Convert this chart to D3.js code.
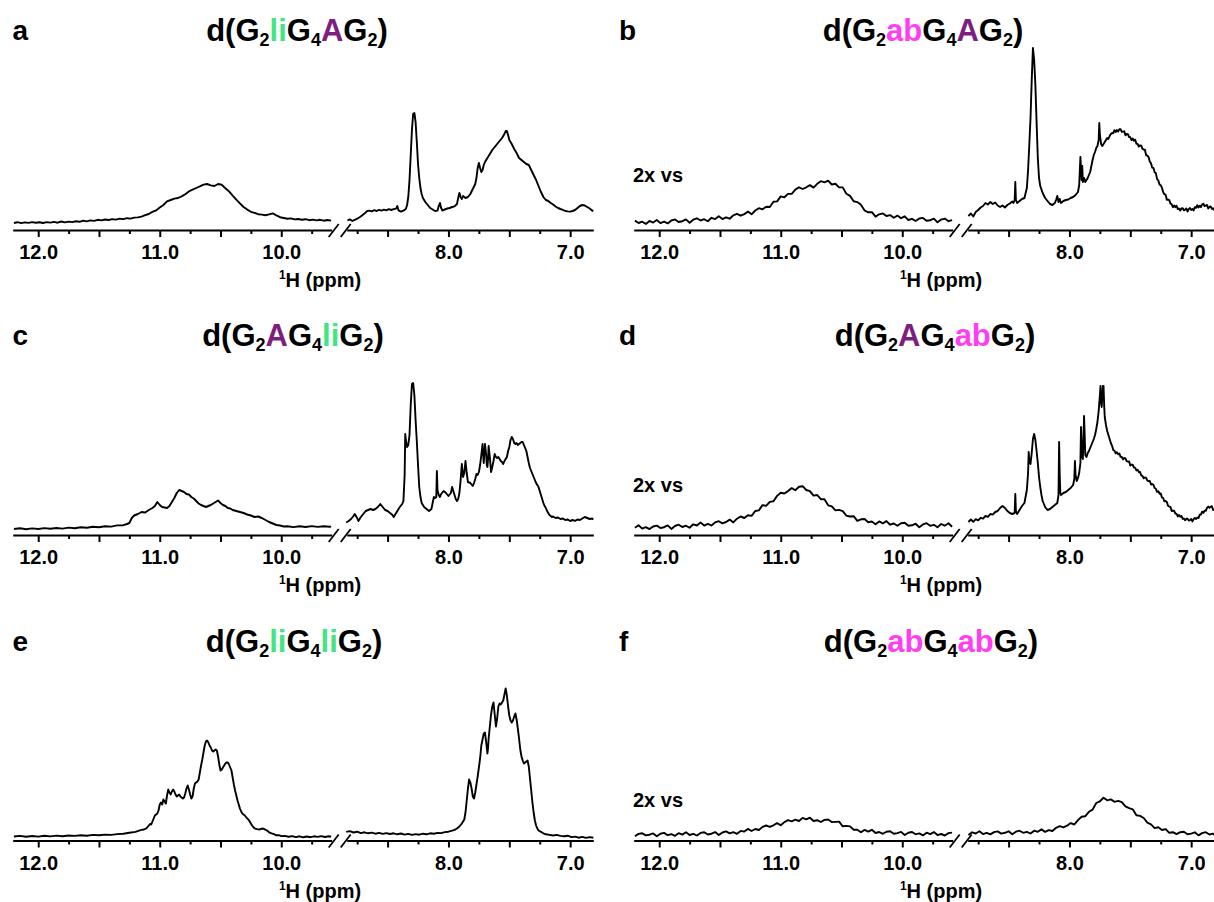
<!DOCTYPE html>
<html><head><meta charset="utf-8">
<script src="https://cdn.jsdelivr.net/npm/d3@7"></script>
<style>
body{margin:0;background:#fff}
svg{display:block}
text{font-family:"Liberation Sans",Arial,Helvetica,sans-serif;font-weight:bold;fill:#000}
</style>
</head><body>
<svg id="chart" width="1214" height="902"></svg>
<script>
// ---------- axis data ----------
const leftDomain = [12.21, 9.585];
const rightDomain = [8.836, 6.81];
const leftTicks = [12.0, 11.75, 11.5, 11.25, 11.0, 10.75, 10.5, 10.25, 10.0, 9.75];
const rightTicks = [8.75, 8.5, 8.25, 8.0, 7.75, 7.5, 7.25, 7.0];
const tickLabels = ["12.0", "11.0", "10.0", "8.0", "7.0"];
const axisTitle = ["1", "H (ppm)"];
const panelLetters = ["a", "b", "c", "d", "e", "f"];
const scaleNote = "2x vs";

// ---------- titles (text, kind) ----------
const titleA = [["d(G",""],["2","sub"],["li","li"],["G",""],["4","sub"],["A","A"],["G",""],["2","sub"],[")",""]];
const titleB = [["d(G",""],["2","sub"],["ab","ab"],["G",""],["4","sub"],["A","A"],["G",""],["2","sub"],[")",""]];
const titleC = [["d(G",""],["2","sub"],["A","A"],["G",""],["4","sub"],["li","li"],["G",""],["2","sub"],[")",""]];
const titleD = [["d(G",""],["2","sub"],["A","A"],["G",""],["4","sub"],["ab","ab"],["G",""],["2","sub"],[")",""]];
const titleE = [["d(G",""],["2","sub"],["li","li"],["G",""],["4","sub"],["li","li"],["G",""],["2","sub"],[")",""]];
const titleF = [["d(G",""],["2","sub"],["ab","ab"],["G",""],["4","sub"],["ab","ab"],["G",""],["2","sub"],[")",""]];

// ---------- spectra [ppm, intensity] ----------
const specA_left = [[12.20,7.0],[12.17,7.8],[12.14,6.9],[12.11,7.6],[12.08,7.1],[12.05,7.9],[12.02,7.2],[11.99,7.8],[11.96,7.0],[11.93,7.9],[11.90,7.4],[11.87,8.1],[11.84,7.3],[11.81,8.5],[11.78,7.6],[11.75,8.4],[11.72,7.9],[11.69,8.7],[11.66,8.2],[11.63,9.4],[11.60,8.6],[11.57,9.6],[11.54,9.1],[11.51,10.2],[11.48,9.6],[11.45,10.5],[11.42,10.0],[11.39,10.9],[11.36,10.4],[11.33,11.3],[11.30,10.9],[11.27,11.8],[11.24,11.4],[11.21,12.4],[11.18,12.6],[11.15,13.4],[11.12,14.8],[11.09,16.0],[11.06,18.2],[11.03,19.6],[11.00,22.4],[10.97,25.0],[10.94,28.6],[10.91,30.0],[10.88,31.4],[10.85,32.0],[10.82,33.6],[10.79,35.8],[10.76,38.6],[10.73,40.4],[10.70,42.0],[10.67,43.6],[10.64,45.4],[10.61,46.0],[10.58,44.6],[10.55,44.0],[10.52,46.0],[10.49,45.2],[10.46,41.8],[10.43,38.6],[10.40,34.4],[10.37,30.4],[10.34,26.6],[10.31,23.0],[10.28,20.4],[10.25,18.2],[10.22,17.2],[10.19,15.8],[10.16,15.4],[10.13,14.8],[10.10,15.6],[10.07,16.6],[10.04,14.6],[10.01,12.8],[9.98,12.0],[9.95,11.2],[9.92,11.6],[9.89,10.6],[9.86,11.0],[9.83,10.2],[9.80,10.8],[9.77,9.8],[9.74,10.4],[9.71,9.6],[9.68,10.2],[9.65,9.3],[9.62,10.0],[9.59,9.4]];
const specA_right = [[8.83,9.5],[8.81,10.6],[8.79,9.0],[8.77,10.2],[8.75,11.4],[8.73,12.8],[8.71,14.6],[8.69,16.4],[8.67,18.8],[8.65,19.4],[8.63,18.6],[8.61,19.8],[8.59,19.0],[8.57,20.2],[8.55,19.4],[8.53,20.4],[8.51,19.6],[8.49,20.8],[8.47,20.0],[8.45,20.8],[8.43,21.4],[8.42,24.0],[8.41,19.6],[8.39,18.4],[8.37,19.4],[8.35,21.0],[8.34,25.0],[8.33,33.0],[8.32,50],[8.31,75],[8.30,100],[8.29,116],[8.28,117],[8.27,108],[8.26,88],[8.25,66],[8.24,52],[8.23,42],[8.22,36],[8.21,32],[8.19,28],[8.17,25],[8.15,22],[8.13,20.5],[8.11,19.0],[8.09,19.4],[8.08,24],[8.07,27],[8.06,22],[8.05,19.5],[8.03,20.5],[8.01,21.5],[7.99,22.0],[7.97,23.0],[7.95,23.6],[7.93,26],[7.92,32],[7.91,37],[7.90,33],[7.89,31],[7.88,34],[7.86,32],[7.84,33],[7.82,36],[7.80,41],[7.78,46],[7.77,52],[7.76,62],[7.75,67],[7.74,62],[7.73,58],[7.72,60],[7.71,65],[7.70,68],[7.68,72],[7.66,76],[7.64,80],[7.62,83],[7.60,86],[7.58,89],[7.56,92],[7.54,96],[7.53,99],[7.52,99],[7.51,95],[7.50,90],[7.48,86],[7.46,81],[7.44,77],[7.42,72],[7.40,70],[7.38,68],[7.36,66],[7.34,65],[7.32,60],[7.30,55],[7.28,50],[7.26,44],[7.24,38],[7.22,33],[7.20,30],[7.18,29],[7.16,27],[7.14,25.5],[7.12,23.5],[7.10,22],[7.08,21],[7.06,20.2],[7.04,19],[7.02,18.6],[7.00,18.4],[6.98,19],[6.96,20],[6.94,22],[6.92,24],[6.90,25],[6.88,24.5],[6.86,23],[6.84,21.5],[6.82,19.5],[6.81,19]];

const specB_left = [[12.20,9.4],[12.17,7.0],[12.14,8.3],[12.11,6.1],[12.08,9.1],[12.05,7.4],[12.02,10.0],[11.99,6.9],[11.96,8.4],[11.93,6.6],[11.90,9.5],[11.87,10.6],[11.84,8.0],[11.81,8.8],[11.78,10.6],[11.75,7.3],[11.72,10.3],[11.69,11.7],[11.66,9.5],[11.63,10.8],[11.60,8.7],[11.57,12.2],[11.54,10.9],[11.51,13.8],[11.48,10.9],[11.45,12.7],[11.42,11.3],[11.39,14.7],[11.36,16.2],[11.33,14.3],[11.30,15.9],[11.27,18.4],[11.24,15.7],[11.21,19.5],[11.18,21.8],[11.15,20.7],[11.12,23.3],[11.09,23.0],[11.06,28.2],[11.03,28.6],[11.00,33.6],[10.97,32.7],[10.94,36.1],[10.91,36.2],[10.88,40.4],[10.85,42.7],[10.82,41.0],[10.79,42.7],[10.76,44.9],[10.73,42.4],[10.70,46.2],[10.67,48.8],[10.64,47.7],[10.61,49.3],[10.58,45.5],[10.55,46.2],[10.52,42.6],[10.49,42.6],[10.46,36.2],[10.43,34.1],[10.40,28.7],[10.37,27.9],[10.34,25.2],[10.31,19.5],[10.28,17.7],[10.25,17.9],[10.22,13.4],[10.19,15.7],[10.16,16.6],[10.13,14.0],[10.10,14.9],[10.07,12.2],[10.04,14.4],[10.01,11.8],[9.98,13.7],[9.95,10.0],[9.92,11.1],[9.89,9.0],[9.86,11.5],[9.83,12.1],[9.80,9.2],[9.77,9.8],[9.74,11.4],[9.71,7.7],[9.68,10.4],[9.65,11.4],[9.62,8.8],[9.59,9.8]];
const specB_right = [[8.83,14],[8.81,16.5],[8.79,13.5],[8.77,18],[8.75,20],[8.73,22.5],[8.71,24],[8.69,27],[8.67,25.5],[8.65,28],[8.63,26],[8.61,27.5],[8.59,24.5],[8.57,23],[8.55,24.5],[8.53,22.5],[8.51,25],[8.49,26.5],[8.47,28.5],[8.46,27],[8.45,30],[8.445,48],[8.44,30],[8.43,27],[8.41,29],[8.39,31],[8.37,32],[8.35,42],[8.34,60],[8.33,85],[8.32,112],[8.31,150],[8.30,182],[8.29,170],[8.28,145],[8.27,108],[8.26,72],[8.25,52],[8.24,44],[8.22,37],[8.20,32],[8.18,29],[8.16,26],[8.14,25],[8.12,27],[8.11,30],[8.10,34],[8.09,28],[8.08,31],[8.07,27],[8.05,29],[8.03,30],[8.01,30.5],[7.99,32],[7.97,33],[7.95,35],[7.93,38],[7.92,45],[7.91,73],[7.90,50],[7.895,64],[7.89,48],[7.88,52],[7.87,48],[7.85,52],[7.83,58],[7.81,70],[7.80,75],[7.79,78],[7.78,82],[7.77,84],[7.76,90],[7.755,107],[7.75,95],[7.74,86],[7.73,84],[7.72,86],[7.71,88],[7.70,90],[7.69,92],[7.68,91],[7.67,94],[7.66,96],[7.65,97.0],[7.64,96.8],[7.63,99.8],[7.62,97.9],[7.61,100.0],[7.60,98.4],[7.59,100.7],[7.58,100.8],[7.57,98.2],[7.56,98.4],[7.55,98.7],[7.54,94.7],[7.53,96.0],[7.52,95.9],[7.51,92.9],[7.50,92.7],[7.49,89.8],[7.48,91.5],[7.47,89.3],[7.46,90.3],[7.45,86.4],[7.44,86.0],[7.43,83.4],[7.42,84.7],[7.41,84.3],[7.40,81.2],[7.39,80.4],[7.38,80.2],[7.37,74.7],[7.36,74.5],[7.35,72.9],[7.34,68.4],[7.33,66.7],[7.32,62.3],[7.31,62.0],[7.30,57.8],[7.29,56.8],[7.28,50.9],[7.27,49.5],[7.26,45.4],[7.25,44.7],[7.24,42.3],[7.23,37.7],[7.22,35.9],[7.21,35.2],[7.20,30.2],[7.19,30.5],[7.18,29.9],[7.17,26.4],[7.16,25.7],[7.15,22.8],[7.14,24.5],[7.13,22.8],[7.12,24.3],[7.11,20.9],[7.10,21.5],[7.09,19.4],[7.08,21.5],[7.07,21.9],[7.06,19.7],[7.05,20.3],[7.04,21.5],[7.03,18.5],[7.02,20.9],[7.01,21.9],[7.00,20.0],[6.99,21.1],[6.98,19.6],[6.97,22.8],[6.96,22.2],[6.95,24.8],[6.94,22.5],[6.93,24.2],[6.92,23.0],[6.91,25.6],[6.90,26.3],[6.89,24.0],[6.88,24.3],[6.87,25.1],[6.86,21.5],[6.85,23.2],[6.84,23.6],[6.83,21.2],[6.82,21.7],[6.81,19.6]];

const specC_left = [[12.20,6.0],[12.15,6.8],[12.10,5.8],[12.05,6.6],[12.00,6.0],[11.95,6.9],[11.90,6.2],[11.85,7.0],[11.80,6.4],[11.75,7.4],[11.70,6.8],[11.65,7.8],[11.60,7.2],[11.55,8.2],[11.50,7.8],[11.45,8.8],[11.40,8.4],[11.35,9.6],[11.30,9.8],[11.27,11.0],[11.25,12.0],[11.23,17],[11.21,19.5],[11.18,21],[11.15,23],[11.12,22.5],[11.09,25],[11.06,27],[11.04,29],[11.02,33],[11.00,30],[10.98,28],[10.96,27.5],[10.94,27],[10.92,29],[10.90,33],[10.88,37],[10.86,42],[10.84,45],[10.82,44],[10.80,43],[10.78,41],[10.76,40.5],[10.74,38],[10.72,36.5],[10.70,34],[10.68,31.5],[10.66,30],[10.64,29],[10.62,28],[10.60,29],[10.58,30],[10.56,31.5],[10.54,33],[10.52,34.5],[10.50,32],[10.48,30],[10.46,29],[10.44,27],[10.42,26.5],[10.40,25],[10.37,24],[10.34,23],[10.31,22],[10.28,20.5],[10.25,19.5],[10.22,18],[10.19,18.5],[10.16,17],[10.13,15],[10.10,13],[10.07,11.5],[10.04,10],[10.01,9.5],[9.98,8.5],[9.95,8.8],[9.90,7.9],[9.85,8.7],[9.80,8.0],[9.75,8.9],[9.70,8.1],[9.65,8.8],[9.60,8.2],[9.59,8.6]];
const specC_right = [[8.84,12.5],[8.82,14],[8.80,16],[8.78,19],[8.77,21],[8.75,17],[8.74,14],[8.72,18],[8.70,21],[8.68,24],[8.66,25],[8.64,26],[8.62,25],[8.60,26],[8.58,28],[8.56,31],[8.54,28],[8.52,25],[8.50,24],[8.48,22],[8.46,20],[8.45,18],[8.43,22],[8.41,26],[8.40,28],[8.38,31],[8.37,34],[8.36,60],[8.355,101],[8.35,95],[8.34,88],[8.33,90],[8.32,100],[8.31,130],[8.30,151],[8.29,152],[8.28,140],[8.27,115],[8.26,94],[8.25,70],[8.24,48],[8.23,38],[8.22,32],[8.20,28],[8.18,26],[8.16,24],[8.14,26],[8.13,32],[8.12,38],[8.11,37],[8.10,38],[8.095,64],[8.09,45],[8.08,40],[8.07,38],[8.06,41],[8.04,44],[8.02,42],[8.00,39],[7.98,42],[7.97,48],[7.96,44],[7.94,36],[7.93,34],[7.92,36],[7.91,42],[7.90,55],[7.89,71],[7.88,58],[7.87,62],[7.86,74],[7.85,62],[7.84,53],[7.82,52],[7.80,49],[7.79,52],[7.78,56],[7.77,61],[7.76,60],[7.75,63],[7.74,70],[7.73,80],[7.72,91],[7.715,80],[7.71,72],[7.705,82],[7.70,91],[7.69,80],[7.685,70],[7.68,68],[7.675,75],[7.67,89],[7.66,78],[7.65,63],[7.64,68],[7.63,74],[7.62,81],[7.61,78],[7.60,77],[7.59,78],[7.58,76],[7.57,74],[7.56,73],[7.55,71],[7.54,74],[7.53,76],[7.52,78],[7.51,84],[7.50,88],[7.49,95],[7.48,98],[7.47,96],[7.46,92],[7.45,91],[7.44,92],[7.43,90],[7.42,91],[7.41,92],[7.40,93],[7.39,93],[7.38,90],[7.37,87],[7.36,84],[7.35,78],[7.34,72],[7.33,67],[7.32,64],[7.31,61],[7.30,58],[7.29,55],[7.28,52],[7.27,50],[7.26,48],[7.25,44],[7.24,40],[7.23,36],[7.22,32],[7.21,29],[7.20,27],[7.19,24],[7.18,22],[7.17,20],[7.16,19],[7.15,18],[7.14,18.5],[7.12,17],[7.10,17.5],[7.08,16],[7.06,16.5],[7.04,15],[7.02,15.5],[7.00,14],[6.98,15],[6.96,14.2],[6.94,15.5],[6.92,15],[6.90,16.5],[6.88,18],[6.86,17],[6.84,16],[6.82,16.5],[6.81,15.5]];

const specD_left = [[12.20,7.2],[12.17,9.8],[12.14,6.4],[12.11,7.9],[12.08,5.9],[12.05,8.5],[12.02,9.4],[11.99,7.0],[11.96,7.8],[11.93,9.6],[11.90,6.1],[11.87,9.0],[11.84,10.3],[11.81,8.0],[11.78,9.3],[11.75,7.2],[11.72,10.7],[11.69,9.5],[11.66,12.4],[11.63,9.4],[11.60,11.1],[11.57,9.5],[11.54,12.6],[11.51,13.8],[11.48,11.6],[11.45,13.0],[11.42,15.4],[11.39,12.6],[11.36,16.3],[11.33,18.5],[11.30,17.0],[11.27,19.7],[11.24,19.1],[11.21,24.0],[11.18,24.6],[11.15,29.9],[11.12,29.2],[11.09,33.1],[11.06,33.8],[11.03,39.1],[11.00,42.3],[10.97,41.5],[10.94,43.9],[10.91,46.9],[10.88,44.7],[10.85,48.2],[10.82,48.8],[10.79,45.0],[10.76,43.9],[10.73,39.4],[10.70,40.0],[10.67,35.8],[10.64,35.7],[10.61,29.7],[10.58,28.7],[10.55,24.6],[10.52,25.1],[10.49,23.9],[10.46,19.4],[10.43,18.5],[10.40,18.8],[10.37,14.1],[10.34,15.7],[10.31,16.0],[10.28,12.8],[10.25,13.5],[10.22,10.8],[10.19,13.6],[10.16,11.6],[10.13,13.9],[10.10,10.3],[10.07,11.5],[10.04,9.3],[10.01,11.8],[9.98,12.3],[9.95,9.3],[9.92,9.7],[9.89,11.3],[9.86,7.8],[9.83,10.6],[9.80,11.8],[9.77,9.2],[9.74,10.2],[9.71,7.8],[9.68,11.0],[9.65,9.3],[9.62,11.7],[9.59,8.3]];
const specD_right = [[8.83,13],[8.81,15.5],[8.79,13.2],[8.77,15.8],[8.75,14.6],[8.73,17.2],[8.71,16.4],[8.69,19.0],[8.67,18.2],[8.65,21],[8.63,20.4],[8.61,23],[8.59,24],[8.57,27],[8.55,29],[8.53,27],[8.51,24],[8.49,22],[8.47,21],[8.45,22],[8.445,41],[8.44,24],[8.43,21],[8.41,25],[8.39,29],[8.37,32],[8.35,45],[8.34,62],[8.335,83],[8.33,75],[8.32,71],[8.31,82],[8.30,96],[8.29,101],[8.28,95],[8.27,84],[8.26,72],[8.25,58],[8.24,48],[8.23,40],[8.22,34],[8.20,28],[8.18,25],[8.16,26],[8.14,28],[8.12,30],[8.10,32],[8.09,40],[8.085,93],[8.08,60],[8.075,42],[8.07,40],[8.05,42],[8.03,43],[8.01,45],[7.99,47],[7.97,50],[7.96,56],[7.955,74],[7.95,60],[7.94,54],[7.93,57],[7.92,62],[7.91,72],[7.905,108],[7.90,90],[7.895,78],[7.89,76],[7.885,95],[7.88,119],[7.875,100],[7.87,80],[7.86,78],[7.85,82],[7.84,84],[7.83,87],[7.82,90],[7.81,93],[7.80,96],[7.79,100],[7.78,106],[7.77,113],[7.76,124],[7.75,140],[7.745,149],[7.74,132],[7.735,128],[7.73,140],[7.725,149],[7.72,149],[7.715,130],[7.71,118],[7.70,110],[7.69,104],[7.68,100],[7.67,96],[7.66,92],[7.65,89.2],[7.64,85.0],[7.63,84.2],[7.62,81.6],[7.61,82.8],[7.60,80.8],[7.59,81.5],[7.58,78.1],[7.57,78.0],[7.56,75.7],[7.55,77.1],[7.54,76.6],[7.53,73.8],[7.52,73.4],[7.51,73.5],[7.50,69.5],[7.49,70.4],[7.48,70.2],[7.47,67.5],[7.46,67.2],[7.45,64.6],[7.44,65.3],[7.43,62.8],[7.42,63.0],[7.41,59.6],[7.40,59.0],[7.39,56.7],[7.38,57.6],[7.37,57.1],[7.36,54.3],[7.35,53.9],[7.34,54.0],[7.33,50.5],[7.32,50.9],[7.31,50.2],[7.30,47.0],[7.29,46.2],[7.28,43.1],[7.27,43.8],[7.26,41.3],[7.25,41.5],[7.24,37.6],[7.23,37.0],[7.22,33.7],[7.21,34.1],[7.20,33.1],[7.19,29.3],[7.18,28.4],[7.17,28.0],[7.16,24.0],[7.15,24.4],[7.14,24.2],[7.13,21.5],[7.12,21.2],[7.11,18.6],[7.10,20.0],[7.09,18.2],[7.08,19.1],[7.07,16.1],[7.06,16.5],[7.05,14.7],[7.04,16.2],[7.03,16.4],[7.02,14.4],[7.01,14.9],[7.00,16.0],[6.99,13.6],[6.98,15.8],[6.97,17.1],[6.96,16.0],[6.95,17.5],[6.94,16.9],[6.93,20.2],[6.92,20.4],[6.91,23.3],[6.90,22.1],[6.89,24.2],[6.88,24.1],[6.87,27.1],[6.86,28.5],[6.85,27.3],[6.84,28.2],[6.83,28.8],[6.82,25.0],[6.81,25.9]];

const specE_left = [[12.20,4.0],[12.15,4.6],[12.10,3.8],[12.05,4.5],[12.00,3.9],[11.95,4.7],[11.90,4.1],[11.85,4.9],[11.80,4.3],[11.75,5.0],[11.70,4.6],[11.65,5.3],[11.60,4.8],[11.55,5.6],[11.50,5.2],[11.45,5.9],[11.40,5.6],[11.35,6.4],[11.30,6.8],[11.25,7.8],[11.20,8.6],[11.17,9.8],[11.15,10.6],[11.13,11.0],[11.11,12.2],[11.09,15],[11.08,16.5],[11.07,16],[11.05,22],[11.04,25],[11.02,27],[11.01,30],[11.00,36],[10.99,38],[10.98,36],[10.97,41],[10.96,39],[10.95,37],[10.94,45],[10.93,51],[10.92,48],[10.91,46],[10.90,49],[10.89,51],[10.88,49],[10.87,46],[10.86,44],[10.85,45],[10.84,46],[10.83,44],[10.82,43],[10.81,42],[10.80,43],[10.79,47],[10.78,52],[10.77,55],[10.76,51],[10.75,46],[10.74,42],[10.73,44],[10.72,52],[10.71,57],[10.70,58],[10.69,59],[10.68,61],[10.67,68],[10.66,75],[10.65,81],[10.64,88],[10.63,95],[10.62,99],[10.61,100],[10.60,98],[10.59,95],[10.58,93],[10.57,90],[10.56,89],[10.55,90],[10.54,91],[10.53,90],[10.52,84],[10.51,76],[10.50,70],[10.49,71],[10.48,73],[10.47,75],[10.46,77],[10.45,78],[10.44,78],[10.43,76],[10.42,73],[10.41,70],[10.40,63],[10.39,56],[10.38,50],[10.37,45],[10.36,40],[10.35,36],[10.34,32],[10.33,29],[10.32,27],[10.31,26],[10.30,25],[10.29,23.5],[10.28,22],[10.27,21],[10.26,19],[10.25,17],[10.24,15],[10.23,13.5],[10.22,12.2],[10.20,11.4],[10.18,11.0],[10.16,11.8],[10.15,12.0],[10.14,11.4],[10.12,10.2],[10.10,8.2],[10.08,7.2],[10.06,6.4],[10.04,5.2],[10.02,5.4],[10.00,4.4],[9.97,4.6],[9.94,3.8],[9.91,4.4],[9.88,3.4],[9.85,4.2],[9.82,3.2],[9.79,4.0],[9.76,3.3],[9.73,4.2],[9.70,3.6],[9.67,4.4],[9.64,3.5],[9.61,4.3],[9.59,3.8]];
const specE_right = [[8.84,8.6],[8.81,9.4],[8.78,8.0],[8.75,8.8],[8.72,7.4],[8.69,8.2],[8.66,7.2],[8.63,7.9],[8.60,6.8],[8.57,7.6],[8.54,6.6],[8.51,7.4],[8.48,6.5],[8.45,7.2],[8.42,6.2],[8.39,7.0],[8.36,5.9],[8.33,6.6],[8.30,5.6],[8.27,6.4],[8.24,5.8],[8.21,6.8],[8.18,6.2],[8.15,7.2],[8.12,6.8],[8.09,7.6],[8.06,7.4],[8.03,8.4],[8.00,8.8],[7.97,9.8],[7.95,10.6],[7.93,12],[7.91,14],[7.89,17],[7.87,21],[7.86,28],[7.85,40],[7.84,52],[7.83,61],[7.82,58],[7.81,52],[7.80,44],[7.79,42],[7.78,48],[7.77,56],[7.76,64],[7.75,73],[7.74,82],[7.73,95],[7.72,101],[7.71,107],[7.70,108],[7.69,98],[7.68,87],[7.675,92],[7.67,102],[7.66,114],[7.65,126],[7.64,134],[7.63,138],[7.62,126],[7.61,114],[7.60,122],[7.59,134],[7.58,137],[7.57,136],[7.56,138],[7.55,140],[7.54,146],[7.53,152],[7.52,145],[7.51,134],[7.50,125],[7.49,120],[7.48,118],[7.47,120],[7.46,124],[7.45,127],[7.44,121],[7.43,112],[7.42,102],[7.41,91],[7.40,84],[7.39,80],[7.38,77],[7.37,78],[7.36,79],[7.35,80],[7.34,74],[7.33,62],[7.32,50],[7.31,38],[7.30,28],[7.29,20],[7.28,15],[7.27,12],[7.26,10],[7.24,8.6],[7.22,7.2],[7.20,6.2],[7.17,5.6],[7.14,5.0],[7.11,5.6],[7.08,4.6],[7.05,4.2],[7.02,4.8],[6.99,3.4],[6.96,3.9],[6.93,2.8],[6.90,3.6],[6.87,2.6],[6.84,3.4],[6.81,2.8]];

const specF_left = [[12.20,4.2],[12.17,6.6],[12.14,7.3],[12.11,5.1],[12.08,5.8],[12.05,7.1],[12.02,4.2],[11.99,6.8],[11.96,7.6],[11.93,5.3],[11.90,6.4],[11.87,4.7],[11.84,7.3],[11.81,5.9],[11.78,8.2],[11.75,5.5],[11.72,6.6],[11.69,5.0],[11.66,7.6],[11.63,8.3],[11.60,6.0],[11.57,6.8],[11.54,8.4],[11.51,5.5],[11.48,8.0],[11.45,9.1],[11.42,7.2],[11.39,8.4],[11.36,6.7],[11.33,9.6],[11.30,8.9],[11.27,11.6],[11.24,9.5],[11.21,11.5],[11.18,10.5],[11.15,13.6],[11.12,15.0],[11.09,13.7],[11.06,15.2],[11.03,17.4],[11.00,15.2],[10.97,18.4],[10.94,20.3],[10.91,19.1],[10.88,20.8],[10.85,19.5],[10.82,22.6],[10.79,21.1],[10.76,22.8],[10.73,19.5],[10.70,20.3],[10.67,18.5],[10.64,20.6],[10.61,21.0],[10.58,18.4],[10.55,18.6],[10.52,18.8],[10.49,14.2],[10.46,14.6],[10.43,14.1],[10.40,10.7],[10.37,10.8],[10.34,8.3],[10.31,10.6],[10.28,8.9],[10.25,10.7],[10.22,7.5],[10.19,8.5],[10.16,6.7],[10.13,8.8],[10.10,9.2],[10.07,6.8],[10.04,7.4],[10.01,8.6],[9.98,5.5],[9.95,7.8],[9.92,8.5],[9.89,6.2],[9.86,7.1],[9.83,5.1],[9.80,7.8],[9.77,6.4],[9.74,8.4],[9.71,5.4],[9.68,6.5],[9.65,5.0],[9.62,7.4],[9.59,7.9]];
const specF_right = [[8.83,5.6],[8.80,8.2],[8.77,7.0],[8.74,9.2],[8.71,6.4],[8.68,7.6],[8.65,6.1],[8.62,8.4],[8.59,9.1],[8.56,6.9],[8.53,7.7],[8.50,9.2],[8.47,6.3],[8.44,8.8],[8.41,9.8],[8.38,7.7],[8.35,8.7],[8.32,7.0],[8.29,9.8],[8.26,8.7],[8.23,11.1],[8.20,8.6],[8.17,10.4],[8.14,9.5],[8.11,12.7],[8.08,14.4],[8.05,13.1],[8.02,14.8],[7.99,17.4],[7.96,16.0],[7.93,20.4],[7.90,23.7],[7.87,24.3],[7.84,28.7],[7.81,30.9],[7.78,37.5],[7.75,39.2],[7.72,42.8],[7.69,40.2],[7.66,41.1],[7.63,38.7],[7.60,39.6],[7.57,38.4],[7.54,34.1],[7.51,32.3],[7.48,31.2],[7.45,25.2],[7.42,24.6],[7.39,22.5],[7.36,17.8],[7.33,16.2],[7.30,12.4],[7.27,13.2],[7.24,10.5],[7.21,11.4],[7.18,7.7],[7.15,8.3],[7.12,6.3],[7.09,8.3],[7.06,8.7],[7.03,6.3],[7.00,6.9],[6.97,8.2],[6.94,5.1],[6.91,7.4],[6.88,8.3],[6.85,6.0],[6.82,6.9],[6.81,5.6]];

// ---------- assemble ----------
const panels = [
  {letter: panelLetters[0], title: titleA, left: specA_left, right: specA_right, note: false},
  {letter: panelLetters[1], title: titleB, left: specB_left, right: specB_right, note: true},
  {letter: panelLetters[2], title: titleC, left: specC_left, right: specC_right, note: false},
  {letter: panelLetters[3], title: titleD, left: specD_left, right: specD_right, note: true},
  {letter: panelLetters[4], title: titleE, left: specE_left, right: specE_right, note: false},
  {letter: panelLetters[5], title: titleF, left: specF_left, right: specF_right, note: true}
];

// ---------- layout / style ----------
const colX = [0, 621];
const rowAxisY = [230, 535, 840.5];
const letterX = [12.5, -2];
const titleCX = [[297, 302], [293, 314], [294, 310]];
const noteLift = [48, 43, 34];
const kindColor = {"": "#000", sub: "#000", li: "#44e483", A: "#7d1f80", ab: "#ff3df4"};

const svg = d3.select("#chart");

panels.forEach((p, i) => {
  const col = i % 2, row = Math.floor(i / 2);
  const ay = rowAxisY[row];
  const g = svg.append("g").attr("transform", `translate(${colX[col]},0)`);

  const xL = d3.scaleLinear().domain(leftDomain).range([12.7, 331.7]);
  const xR = d3.scaleLinear().domain(rightDomain).range([346.7, 593.3]);
  const y = d3.scaleLinear().domain([0, 200]).range([ay, ay - 200]);

  [[xL, leftTicks], [xR, rightTicks]].forEach(([sc, ticks]) => {
    const major = ticks.filter(t => Math.abs(t * 2 - Math.round(t * 2)) < 1e-9);
    const minor = ticks.filter(t => !major.includes(t));
    const fmt = d => tickLabels.includes(d.toFixed(1)) ? d.toFixed(1) : "";
    const gMaj = g.append("g").attr("transform", `translate(0,${ay})`)
      .call(d3.axisBottom(sc).tickValues(major).tickSize(7).tickSizeOuter(0).tickPadding(8).tickFormat(fmt));
    const gMin = g.append("g").attr("transform", `translate(0,${ay})`)
      .call(d3.axisBottom(sc).tickValues(minor).tickSize(4).tickSizeOuter(0).tickFormat(""));
    gMin.select(".domain").remove();
    [gMaj, gMin].forEach(a => {
      a.selectAll("line").attr("stroke", "#000").attr("stroke-width", 2);
      a.select(".domain").attr("stroke", "#000").attr("stroke-width", 2.2);
      a.selectAll("text").attr("font-size", 20).attr("fill", "#000")
        .style("font-family", '"Liberation Sans",Arial,sans-serif').style("font-weight", "bold");
    });
  });

  const bx1 = xL.range()[1], bx2 = xR.range()[0];
  [[bx1 - 3, bx1 + 7], [bx2 - 6, bx2 + 4]].forEach(([a, b]) => {
    g.append("line").attr("x1", a).attr("y1", ay + 7).attr("x2", b).attr("y2", ay - 6)
      .attr("stroke", "#000").attr("stroke-width", 1.8);
  });

  const line = sc => d3.line().x(d => sc(d[0])).y(d => y(d[1]));
  [[p.left, xL], [p.right, xR]].forEach(([data, sc]) => {
    g.append("path").datum(data).attr("d", line(sc))
      .attr("fill", "none").attr("stroke", "#000").attr("stroke-width", 1.9)
      .attr("stroke-linejoin", "round");
  });

  const at = g.append("text").attr("x", 320).attr("y", ay + 57).attr("text-anchor", "middle").attr("font-size", 20);
  at.append("tspan").text(axisTitle[0]).attr("font-size", 12).attr("dy", -8);
  at.append("tspan").text(axisTitle[1]).attr("dy", 8);

  g.append("text").attr("x", letterX[col]).attr("y", ay - 190).attr("font-size", 28).text(p.letter);

  const tt = g.append("text").attr("x", titleCX[row][col]).attr("y", ay - 189)
    .attr("text-anchor", "middle").attr("font-size", 31);
  let shifted = false;
  p.title.forEach(([txt, kind]) => {
    const ts = tt.append("tspan").text(txt).attr("fill", kindColor[kind]);
    if (kind === "sub") {
      ts.attr("font-size", 18).attr("dy", shifted ? 0 : 5);
      shifted = true;
    } else {
      ts.attr("dy", shifted ? -5 : 0);
      shifted = false;
    }
  });

  if (p.note) {
    g.append("text").attr("x", 12).attr("y", ay - noteLift[row]).attr("font-size", 20).text(scaleNote);
  }
});
</script>
</body></html>
